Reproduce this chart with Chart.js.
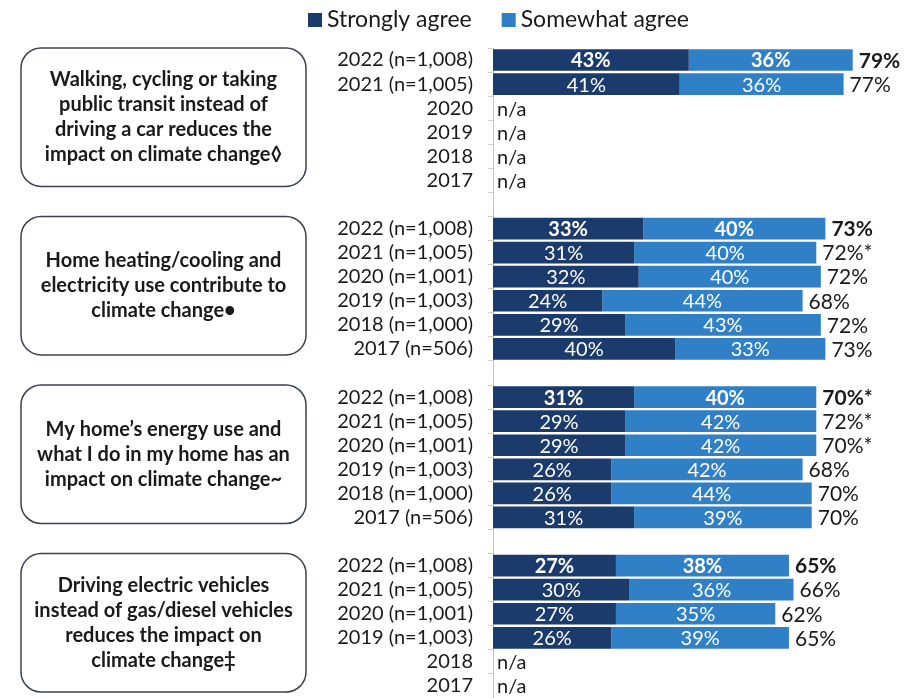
<!DOCTYPE html>
<html>
<head>
<meta charset="utf-8">
<script src="https://cdn.jsdelivr.net/npm/chart.js@4.4.1/dist/chart.umd.min.js"></script>
<style>
    html, body { margin: 0; padding: 0; background: #ffffff; }
    #wrap { width: 921px; height: 698px; position: relative; }
</style>
</head>
<body>
<div id="wrap"><canvas id="agreeChart" width="921" height="698"></canvas></div>
<script>
// Séries affichées
const seriesNames = ['Strongly agree', 'Somewhat agree'];
const seriesColors = ['#1B3B6D', '#2F80C6'];

// Énoncés (une ligne par élément)
const walkingText = ['Walking, cycling or taking', 'public transit instead of', 'driving a car reduces the', 'impact on climate change\u25CA'];
const heatingText = ['Home heating/cooling and', 'electricity use contribute to', 'climate change\u2022'];
const energyText = ['My home\u2019s energy use and', 'what I do in my home has an', 'impact on climate change~'];
const evText = ['Driving electric vehicles', 'instead of gas/diesel vehicles', 'reduces the impact on', 'climate change\u2021'];

// Libellés des années
const walkingLabels = ['2022 (n=1,008)', '2021 (n=1,005)', '2020', '2019', '2018', '2017'];
const heatingLabels = ['2022 (n=1,008)', '2021 (n=1,005)', '2020 (n=1,001)', '2019 (n=1,003)', '2018 (n=1,000)', '2017 (n=506)'];
const energyLabels = ['2022 (n=1,008)', '2021 (n=1,005)', '2020 (n=1,001)', '2019 (n=1,003)', '2018 (n=1,000)', '2017 (n=506)'];
const evLabels = ['2022 (n=1,008)', '2021 (n=1,005)', '2020 (n=1,001)', '2019 (n=1,003)', '2018', '2017'];

// Valeurs
const walkingStrong = [43, 41, null, null, null, null];
const walkingSomewhat = [36, 36, null, null, null, null];
const walkingTotal = ['79%', '77%', null, null, null, null];

const heatingStrong = [33, 31, 32, 24, 29, 40];
const heatingSomewhat = [40, 40, 40, 44, 43, 33];
const heatingTotal = ['73%', '72%*', '72%', '68%', '72%', '73%'];

const energyStrong = [31, 29, 29, 26, 26, 31];
const energySomewhat = [40, 42, 42, 42, 44, 39];
const energyTotal = ['70%*', '72%*', '70%*', '68%', '70%', '70%'];

const evStrong = [27, 30, 27, 26, null, null];
const evSomewhat = [38, 36, 35, 39, null, null];
const evTotal = ['65%', '66%', '62%', '65%', null, null];

const FONT = 'Lato, "Open Sans", sans-serif';

// Assembler les groupes avec une ligne vide entre chacun
const groups = [
    { text: walkingText, labels: walkingLabels, strong: walkingStrong, somewhat: walkingSomewhat, total: walkingTotal },
    { text: heatingText, labels: heatingLabels, strong: heatingStrong, somewhat: heatingSomewhat, total: heatingTotal },
    { text: energyText, labels: energyLabels, strong: energyStrong, somewhat: energySomewhat, total: energyTotal },
    { text: evText, labels: evLabels, strong: evStrong, somewhat: evSomewhat, total: evTotal }
];

const labels = [], strongData = [], somewhatData = [], totals = [], boldRows = [], groupRows = [];
groups.forEach((g, gi) => {
    if (gi > 0) {
        labels.push('');
        strongData.push(null);
        somewhatData.push(null);
        totals.push(null);
        boldRows.push(false);
    }
    const first = labels.length;
    g.labels.forEach((lab, i) => {
        labels.push(lab);
        strongData.push(g.strong[i]);
        somewhatData.push(g.somewhat[i]);
        totals.push(g.total[i]);
        boldRows.push(i === 0);
    });
    groupRows.push({ first, last: labels.length - 1, text: g.text });
});

// Étiquettes dans les barres, totaux et n/a
const barLabels = {
    id: 'barLabels',
    afterDatasetsDraw(chart) {
        const ctx = chart.ctx;
        const area = chart.chartArea;
        ctx.save();
        ctx.textBaseline = 'middle';
        chart.data.datasets.forEach((ds, di) => {
            const meta = chart.getDatasetMeta(di);
            meta.data.forEach((bar, i) => {
                const v = ds.data[i];
                if (v === null) return;
                ctx.fillStyle = '#ffffff';
                ctx.textAlign = 'center';
                ctx.font = (boldRows[i] ? 'bold ' : '') + '20px ' + FONT;
                ctx.fillText(v + '%', (bar.x + bar.base) / 2, bar.y + 1);
            });
        });
        const lastMeta = chart.getDatasetMeta(1);
        const yScale = chart.scales.y;
        labels.forEach((lab, i) => {
            ctx.fillStyle = '#1a1a1a';
            ctx.textAlign = 'left';
            ctx.font = (boldRows[i] ? 'bold ' : '') + '21px ' + FONT;
            if (totals[i] !== null) {
                const bar = lastMeta.data[i];
                ctx.fillText(totals[i], bar.x + 6, bar.y + 1);
            } else if (lab !== '' && strongData[i] === null) {
                ctx.font = '20px ' + FONT;
                ctx.fillText('n/a', area.left + 4, yScale.getPixelForValue(i) + 1);
            }
        });
        ctx.restore();
    }
};

// Encadrés des énoncés et légende
const sidePanel = {
    id: 'sidePanel',
    afterDraw(chart) {
        const ctx = chart.ctx;
        const yScale = chart.scales.y;
        const rowH = yScale.getPixelForValue(1) - yScale.getPixelForValue(0);
        ctx.save();
        groupRows.forEach(g => {
            const top = yScale.getPixelForValue(g.first) - rowH / 2;
            const bottom = yScale.getPixelForValue(g.last) + rowH / 4;
            const left = 21, right = 306;
            ctx.beginPath();
            ctx.roundRect(left, top, right - left, bottom - top, 20);
            ctx.strokeStyle = '#3b4150';
            ctx.lineWidth = 1.5;
            ctx.stroke();
            const lineH = 25;
            const mid = (top + bottom) / 2;
            ctx.fillStyle = '#1a1a1a';
            ctx.font = 'bold 20px ' + FONT;
            ctx.textAlign = 'center';
            ctx.textBaseline = 'middle';
            g.text.forEach((line, i) => {
                ctx.fillText(line, (left + right) / 2, mid + (i - (g.text.length - 1) / 2) * lineH);
            });
        });

        // Légende
        ctx.font = '23px ' + FONT;
        ctx.textBaseline = 'middle';
        ctx.textAlign = 'left';
        let x = 308;
        seriesNames.forEach((name, i) => {
            ctx.fillStyle = seriesColors[i];
            ctx.fillRect(x, 13, 14, 14);
            ctx.fillStyle = '#1a1a1a';
            ctx.fillText(name, x + 19, 20);
            x += 19 + ctx.measureText(name).width + 30;
        });
        ctx.restore();
    }
};

const ctx1 = document.getElementById('agreeChart').getContext('2d');
const agreeChart = new Chart(ctx1, {
    type: 'bar',
    data: {
        labels: labels,
        datasets: [{
            label: seriesNames[0],
            data: strongData,
            backgroundColor: seriesColors[0],
            borderWidth: 0
        }, {
            label: seriesNames[1],
            data: somewhatData,
            backgroundColor: seriesColors[1],
            borderWidth: 0
        }]
    },
    options: {
        indexAxis: 'y',
        responsive: false,
        animation: false,
        layout: {
            autoPadding: false,
            padding: { top: 48, right: 0, bottom: 0, left: 0 }
        },
        datasets: {
            bar: {
                categoryPercentage: 1,
                barPercentage: 0.9
            }
        },
        plugins: {
            legend: { display: false },
            tooltip: { enabled: false }
        },
        scales: {
            x: {
                stacked: true,
                display: false,
                min: 0,
                max: 94
            },
            y: {
                stacked: true,
                afterFit(scale) {
                    scale.width = 493;
                    scale.paddingTop = 0;
                    scale.paddingBottom = 0;
                },
                border: {
                    display: true,
                    color: '#c4c4c4',
                    width: 1
                },
                grid: {
                    drawOnChartArea: false,
                    drawTicks: true,
                    tickLength: 5,
                    offset: true,
                    color: '#cfcfcf'
                },
                ticks: {
                    color: '#1a1a1a',
                    padding: 15,
                    autoSkip: false,
                    font: { family: FONT, size: 20 }
                }
            }
        }
    },
    plugins: [barLabels, sidePanel]
});
</script>
</body>
</html>
